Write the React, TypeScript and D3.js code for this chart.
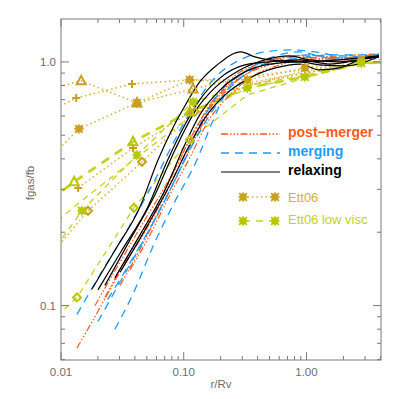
import React from "react";
import * as d3 from "d3";

type Pt = [number, number];

// r/Rv , fgas/fb
const postMerger: Pt[][] = [
  [[0.0135, 0.067], [0.0182, 0.087], [0.025, 0.116], [0.0345, 0.154], [0.044, 0.186], [0.064, 0.259], [0.0932, 0.378], [0.135, 0.551], [0.198, 0.732], [0.315, 0.884], [0.505, 0.972], [0.88, 1.019], [1.86, 1.038], [3.9, 1.068]],
  [[0.0189, 0.1], [0.0303, 0.151], [0.0483, 0.225], [0.0772, 0.334], [0.112, 0.479], [0.163, 0.666], [0.238, 0.844], [0.38, 0.972], [0.61, 1.038], [1.06, 1.068], [1.86, 1.019], [3.9, 1.068]],
  [[0.0228, 0.108], [0.0365, 0.166], [0.0583, 0.247], [0.089, 0.378], [0.123, 0.526], [0.179, 0.699], [0.287, 0.884], [0.46, 1.0], [0.73, 1.019], [1.28, 1.0], [2.24, 1.038], [3.9, 1.079]],
  [[0.0303, 0.121], [0.0483, 0.186], [0.074, 0.285], [0.107, 0.415], [0.149, 0.578], [0.217, 0.753], [0.346, 0.91], [0.56, 1.019], [0.88, 1.058], [1.4, 1.019], [2.24, 1.019], [3.9, 1.068]],
  [[0.0365, 0.14], [0.053, 0.195], [0.0772, 0.285], [0.112, 0.404], [0.157, 0.568], [0.238, 0.732], [0.38, 0.884], [0.61, 0.972], [1.06, 1.038], [1.86, 1.058], [3.9, 1.079]],
];

const merging: Pt[][] = [
  [[0.0135, 0.092], [0.0208, 0.134], [0.0365, 0.214], [0.0583, 0.328], [0.0848, 0.479], [0.123, 0.666], [0.179, 0.86], [0.287, 1.019], [0.46, 1.099], [0.73, 1.12], [1.17, 1.099], [1.86, 1.058], [3.9, 1.05]],
  [[0.02, 0.086], [0.0303, 0.125], [0.0483, 0.19], [0.0772, 0.298], [0.112, 0.435], [0.163, 0.606], [0.238, 0.782], [0.38, 0.945], [0.61, 1.019], [1.06, 1.068], [1.86, 1.038], [3.9, 1.058]],
  [[0.0275, 0.08], [0.04, 0.116], [0.0553, 0.172], [0.082, 0.259], [0.128, 0.396], [0.174, 0.578], [0.238, 0.8], [0.346, 0.93], [0.56, 1.0], [0.88, 1.038], [1.54, 1.068], [3.9, 1.068]],
  [[0.024, 0.106], [0.04, 0.162], [0.064, 0.247], [0.097, 0.378], [0.135, 0.551], [0.198, 0.753], [0.315, 0.91], [0.505, 1.038], [0.88, 1.099], [1.54, 1.038], [3.9, 1.05]],
];

const relaxing: Pt[][] = [
  [[0.0179, 0.117], [0.0276, 0.169], [0.044, 0.254], [0.0617, 0.396], [0.08, 0.526], [0.098, 0.636], [0.135, 0.828], [0.187, 0.972], [0.292, 1.099], [0.38, 1.048], [0.505, 1.019], [0.88, 1.0], [1.86, 1.019], [3.9, 1.058]],
  [[0.02, 0.116], [0.0314, 0.169], [0.051, 0.254], [0.074, 0.396], [0.102, 0.551], [0.135, 0.699], [0.198, 0.86], [0.315, 0.972], [0.505, 1.0], [0.88, 1.02], [1.54, 0.98], [2.7, 1.02], [3.9, 1.05]],
  [[0.0275, 0.13], [0.044, 0.195], [0.0703, 0.298], [0.102, 0.457], [0.135, 0.606], [0.198, 0.768], [0.315, 0.91], [0.505, 0.98], [0.88, 1.0], [1.28, 0.972], [2.05, 0.963], [3.9, 1.05]],
  [[0.0303, 0.137], [0.0483, 0.204], [0.0772, 0.313], [0.112, 0.457], [0.149, 0.589], [0.217, 0.732], [0.346, 0.86], [0.56, 0.945], [0.88, 0.98], [1.28, 0.927], [1.86, 0.945], [2.7, 1.02], [3.9, 1.05]],
  [[0.0228, 0.121], [0.0365, 0.186], [0.0583, 0.285], [0.0848, 0.435], [0.123, 0.624], [0.179, 0.782], [0.287, 0.927], [0.46, 1.02], [0.73, 1.058], [1.06, 1.019], [1.86, 1.0], [3.9, 1.058]],
];

const ett06: Pt[][] = [
  [[0.005, 0.73], [0.0146, 0.836], [0.0416, 0.679], [0.119, 0.775], [0.33, 0.87], [0.97, 0.93], [2.8, 0.99], [8, 1.0]],
  [[0.005, 0.554], [0.0133, 0.711], [0.0379, 0.812], [0.112, 0.844], [0.33, 0.844], [0.97, 0.945], [2.8, 1.02], [8, 1.03]],
  [[0.005, 0.316], [0.014, 0.531], [0.0416, 0.679], [0.112, 0.844], [0.33, 0.82], [0.97, 0.9], [2.8, 0.99], [8, 1.0]],
  [[0.005, 0.12], [0.0166, 0.245], [0.0457, 0.389], [0.123, 0.624], [0.33, 0.8], [0.97, 0.92], [2.8, 0.99], [8, 1.0]],
  [[0.0138, 0.304], [0.0386, 0.443], [0.112, 0.62], [0.33, 0.8], [0.97, 0.9], [2.8, 0.99], [8, 1.0]],
];
const ett06Markers = ["triangle", "plus", "square", "diamond", "plus"];

const lowVisc: Pt[][] = [
  [[0.005, 0.225], [0.0128, 0.322], [0.0386, 0.47], [0.112, 0.624], [0.33, 0.782], [0.97, 0.868], [2.8, 0.99], [8, 1.0]],
  [[0.005, 0.114], [0.0148, 0.245], [0.0416, 0.415], [0.119, 0.685], [0.33, 0.8], [0.97, 0.88], [2.8, 1.0], [8, 1.01]],
  [[0.005, 0.068], [0.0135, 0.108], [0.0393, 0.252], [0.112, 0.479], [0.33, 0.732], [0.97, 0.86], [2.8, 0.99], [8, 1.0]],
  [[0.005, 0.17], [0.0135, 0.26], [0.04, 0.4], [0.115, 0.6], [0.33, 0.78], [0.97, 0.87], [2.8, 0.99], [8, 1.0]],
];
const lowViscMarkers = ["triangle", "square", "diamond", "none"];

const ORANGE = "#ff5a1e";
const BLUE = "#1e9bff";
const GOLD = "#dcae3c";
const GOLD_M = "#c9a020";
const GREEN = "#c5d21a";
const GREEN_M = "#b8c800";
const AXIS = "#7a7a7a";

const Marker = ({ kind, cx, cy, color }: { kind: string; cx: number; cy: number; color: string }) => {
  if (kind === "triangle")
    return <path d={`M${cx},${cy - 5}L${cx + 4.5},${cy + 3.5}L${cx - 4.5},${cy + 3.5}Z`} fill="none" stroke={color} strokeWidth={2} />;
  if (kind === "plus")
    return <path d={`M${cx - 4},${cy}H${cx + 4}M${cx},${cy - 4}V${cy + 4}`} stroke={color} strokeWidth={2} />;
  if (kind === "diamond")
    return <path d={`M${cx},${cy - 4}L${cx + 4},${cy}L${cx},${cy + 4}L${cx - 4},${cy}Z`} fill="none" stroke={color} strokeWidth={2} />;
  if (kind === "square")
    return (
      <g>
        <rect x={cx - 3.5} y={cy - 3.5} width={7} height={7} fill={color} />
        <path d={`M${cx - 5},${cy}H${cx + 5}M${cx},${cy - 5}V${cy + 5}M${cx - 4},${cy - 4}L${cx + 4},${cy + 4}M${cx - 4},${cy + 4}L${cx + 4},${cy - 4}`} stroke={color} strokeWidth={1.2} />
      </g>
    );
  return null;
};

export default function App() {
  const x = d3.scaleLog().domain([0.01, 4.05]).range([61, 381]);
  const y = d3.scaleLog().domain([0.0598, 1.5]).range([360, 19]);
  const smooth = d3.line<Pt>().x(d => x(d[0])).y(d => y(d[1])).curve(d3.curveMonotoneX);
  const straight = d3.line<Pt>().x(d => x(d[0])).y(d => y(d[1]));

  const isMajor = (t: number) => Math.abs(Math.log10(t) - Math.round(Math.log10(t))) < 1e-9;
  const xt = x.ticks();
  const yt = y.ticks();
  const fx = d3.format(".2f");
  const fy = d3.format(".1f");
  const [x0, x1] = x.range();
  const [y0, y1] = y.range();

  const inside = (p: Pt) => p[0] >= 0.0099 && p[0] <= 4.05;
  // out in the flat part only one curve of each family shows its symbol, as filled squares
  const markerFor = (kinds: string[], i: number, p: Pt, lead: number) =>
    p[0] > 0.2 ? (i === lead ? "square" : "none") : kinds[i];

  return (
    <div style={{ position: "absolute", left: 0, top: 0 }}>
      <svg width={399} height={399} style={{ display: "block", background: "#fff" }}>
        <defs>
          <clipPath id="plot">
            <rect x={x0} y={y1} width={x1 - x0} height={y0 - y1} />
          </clipPath>
        </defs>

        <g clipPath="url(#plot)">
          {ett06.map((s, i) => (
            <path key={`e${i}`} d={straight(s) || ""} fill="none" stroke={GOLD} strokeWidth={1.5} strokeDasharray="1.5,3" />
          ))}
          {lowVisc.map((s, i) => (
            <path key={`l${i}`} d={straight(s) || ""} fill="none" stroke={GREEN}
              strokeWidth={i === 0 ? 2.6 : 1.3} strokeDasharray={i === 0 ? "9,7" : "6,5"} />
          ))}
          {postMerger.map((s, i) => (
            <path key={`p${i}`} d={smooth(s) || ""} fill="none" stroke={ORANGE} strokeWidth={1.2}
              strokeDasharray="7,2,1.5,2,1.5,2,1.5,2" />
          ))}
          {merging.map((s, i) => (
            <path key={`m${i}`} d={smooth(s) || ""} fill="none" stroke={BLUE} strokeWidth={1.3} strokeDasharray="8,6" />
          ))}
          {relaxing.map((s, i) => (
            <path key={`r${i}`} d={smooth(s) || ""} fill="none" stroke="#000" strokeWidth={1.2} />
          ))}
          {ett06.map((s, i) =>
            s.filter(inside).map((p, j) => (
              <Marker key={`em${i}-${j}`} kind={markerFor(ett06Markers, i, p, 1)} cx={x(p[0])} cy={y(p[1])} color={GOLD_M} />
            ))
          )}
          {lowVisc.map((s, i) =>
            s.filter(inside).map((p, j) => (
              <Marker key={`lm${i}-${j}`} kind={markerFor(lowViscMarkers, i, p, 0)} cx={x(p[0])} cy={y(p[1])} color={GREEN_M} />
            ))
          )}
        </g>

        {/* frame and ticks */}
        <rect x={x0} y={y1} width={x1 - x0} height={y0 - y1} fill="none" stroke={AXIS} strokeWidth={1} />
        {xt.map((t, i) => {
          const len = isMajor(t) ? 8 : 4;
          const px = x(t);
          return (
            <g key={`xt${i}`} stroke={AXIS}>
              <line x1={px} x2={px} y1={y0} y2={y0 - len} />
              <line x1={px} x2={px} y1={y1} y2={y1 + len} />
            </g>
          );
        })}
        {yt.map((t, i) => {
          const len = isMajor(t) ? 8 : 4;
          const py = y(t);
          return (
            <g key={`yt${i}`} stroke={AXIS}>
              <line x1={x0} x2={x0 + len} y1={py} y2={py} />
              <line x1={x1} x2={x1 - len} y1={py} y2={py} />
            </g>
          );
        })}
        <g fontFamily="Liberation Sans, Arial, sans-serif" fontSize={11.5} fill="#6e6e6e">
          {xt.filter(isMajor).map((t, i) => (
            <text key={`xl${i}`} x={x(t)} y={376} textAnchor="middle">{fx(t)}</text>
          ))}
          {yt.filter(isMajor).map((t, i) => (
            <text key={`yl${i}`} x={56} y={y(t) + 4} textAnchor="end">{fy(t)}</text>
          ))}
          <text x={221} y={388} textAnchor="middle">r/Rv</text>
          <text transform="translate(34,183) rotate(-90)" textAnchor="middle">fgas/fb</text>
        </g>

        {/* legend */}
        <g fontFamily="Liberation Sans, Arial, sans-serif">
          <line x1={221} x2={280} y1={134} y2={134} stroke={ORANGE} strokeWidth={1.3} strokeDasharray="7,2,1.5,2,1.5,2,1.5,2" />
          <text x={288} y={137} fontSize={14} fontWeight="bold" fill={ORANGE}>post−merger</text>
          <line x1={221} x2={280} y1={153} y2={153} stroke={BLUE} strokeWidth={1.3} strokeDasharray="8,6" />
          <text x={288} y={156} fontSize={14} fontWeight="bold" fill={BLUE}>merging</text>
          <line x1={221} x2={280} y1={172} y2={172} stroke="#000" strokeWidth={1.2} />
          <text x={288} y={175} fontSize={14} fontWeight="bold" fill="#000">relaxing</text>

          <line x1={243} x2={275} y1={197} y2={197} stroke={GOLD} strokeWidth={1.5} strokeDasharray="1.5,3" />
          <Marker kind="square" cx={243} cy={197} color={GOLD_M} />
          <Marker kind="square" cx={275} cy={197} color={GOLD_M} />
          <text x={288} y={202} fontSize={13} fill={GOLD}>Ett06</text>

          <line x1={243} x2={275} y1={221} y2={221} stroke={GREEN} strokeWidth={1.5} strokeDasharray="7,6" />
          <Marker kind="square" cx={243} cy={221} color={GREEN_M} />
          <Marker kind="square" cx={275} cy={221} color={GREEN_M} />
          <text x={288} y={224} fontSize={13} fill={GREEN}>Ett06 low visc</text>
        </g>
      </svg>
    </div>
  );
}
